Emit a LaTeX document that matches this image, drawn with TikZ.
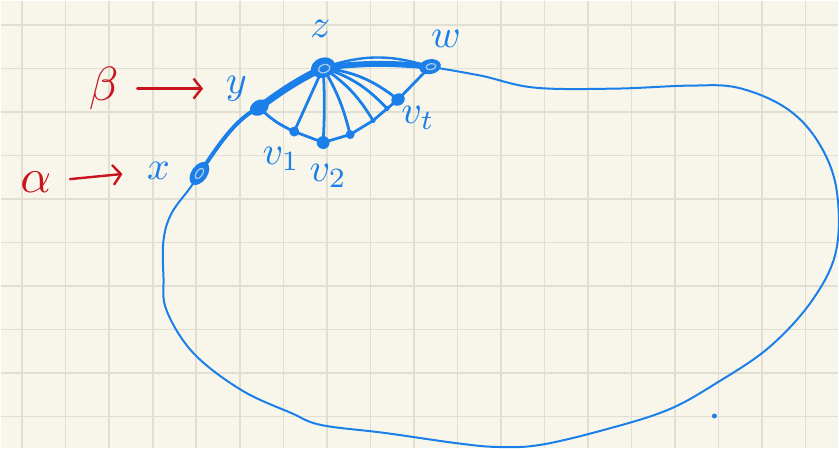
\documentclass[tikz,border=0pt]{standalone}
\usetikzlibrary{shapes.geometric,arrows.meta}
\definecolor{paper}{HTML}{F8F6EA}
\definecolor{gridc}{HTML}{E1DED2}
\definecolor{pblue}{HTML}{1A7FE8}
\definecolor{pred}{HTML}{C8141E}
\pgfdeclarelayer{gridlayer}
\pgfdeclarelayer{edgelayer}
\pgfsetlayers{gridlayer,edgelayer,main}
\tikzset{
  blob/.style={ellipse, fill=pblue, inner sep=0pt},
  hole/.style={ellipse, draw=pblue!35!paper, line width=0.6pt, inner sep=0pt},
  vdot/.style={circle, fill=pblue, inner sep=0pt},
  lbl/.style={text=pblue, scale=2, inner sep=0pt},
  glbl/.style={text=pred, scale=2.4, inner sep=0pt},
  curve/.style={draw=pblue, line width=1pt, line cap=round, line join=round},
  fanline/.style={draw=pblue, line width=1.4pt, line cap=round, line join=round},
  redarrow/.style={draw=pred, line width=1.2pt, line cap=round, -{Straight Barb[length=4pt,width=10pt]}}
}
\begin{document}
\begin{tikzpicture}[x=0.5pt,y=-0.5pt]
\begin{pgfonlayer}{gridlayer}
  \fill[paper] (0,0) rectangle (839,448);
  \foreach \k in {0,...,18} \draw[gridc,line width=0.8pt] ({21.4+43.61*\k},0) -- ({21.4+43.61*\k},448);
  \foreach \k in {0,...,9} \draw[gridc,line width=0.8pt] (0,{24+43.63*\k}) -- (839,{24+43.63*\k});
\end{pgfonlayer}
\useasboundingbox (0,0) rectangle (839,448);

% vertices
\node[blob, minimum width=13pt, minimum height=8pt, rotate=55] (x) at (199,173) {};
\node[hole, minimum width=6pt, minimum height=3pt, rotate=55] (xi) at (199,173) {};
\node[blob, minimum width=10pt, minimum height=7.5pt, rotate=30] (y) at (259,107) {};
\node[blob, minimum width=12.5pt, minimum height=10pt, rotate=20] (z) at (323,67) {};
\node[hole, minimum width=6pt, minimum height=4pt, rotate=20] (zi) at (324,68) {};
\node[blob, minimum width=11pt, minimum height=7.5pt, rotate=10] (w) at (430,66) {};
\node[hole, minimum width=5pt, minimum height=3pt, rotate=10] (wi) at (431,66) {};
\node[vdot, minimum size=5pt] (v1) at (294,131) {};
\node[vdot, minimum size=6.5pt] (v2) at (323,142) {};
\node[vdot, minimum size=4.5pt] (v3) at (350,134) {};
\node[vdot, minimum size=2.5pt] (p4) at (373,120) {};
\node[vdot, minimum size=2.5pt] (p5) at (387,108) {};
\node[blob, minimum width=7pt, minimum height=6pt, rotate=30] (vt) at (398,99) {};
\node[vdot, minimum size=2.5pt] (dot) at (715,416) {};

% labels
\node[lbl] (lz) at (320,28) {$z$};
\node[lbl] (lw) at (446,38) {$w$};
\node[lbl] (ly) at (236,88) {$y$};
\node[lbl] (lx) at (158,170) {$x$};
\node[lbl] (lv1) at (281,158) {$v_1$};
\node[lbl] (lv2) at (328,175) {$v_2$};
\node[lbl] (lvt) at (418,117) {$v_t$};
\node[glbl] (beta) at (103,88) {$\beta$};
\node[glbl] (alpha) at (35,182) {$\alpha$};

\draw[redarrow, shorten <=9pt, shorten >=11pt] (beta) -- (ly);
\draw[redarrow, shorten <=9pt, shorten >=12pt] (alpha) -- (lx);

\begin{pgfonlayer}{edgelayer}
  \draw[curve] plot[smooth, tension=0.6] coordinates {(w.center) (481,75) (535,87) (615,88) (690,85) (738,87) (786,107) (818,140) (837,187) (837,250) (813,300) (770,347) (717,383) (668,410) (604,430) (540,445) (497,447) (455,443) (385,433) (321,425) (291,413) (241,390) (193,353) (166,310) (163,277) (163,240) (171,213) (190,187) (x.center)};
  \draw[curve, line width=2pt] (x.center) .. controls (218,145) and (235,118) .. (y.center);
  \draw[curve, line width=3.5pt] (y.center) to[bend left=5] (z.center);
  \draw[curve, line width=3pt] (z.center) to[bend left=6] (w.center);
  \draw[curve, line width=1.2pt] (z.center) to[bend left=18] (w.center);
  \draw[fanline] (y.center) to[bend right=10] (v1.center) -- (v2.center) -- (v3.center) -- (p4.center) -- (p5.center) -- (vt.center) -- (w.center);
  \foreach \t/\b in {v1/0, v2/3, v3/8, p4/12, p5/14, vt/15}
    \draw[fanline] (z.center) to[bend left=\b] (\t.center);
\end{pgfonlayer}
\end{tikzpicture}
\end{document}
